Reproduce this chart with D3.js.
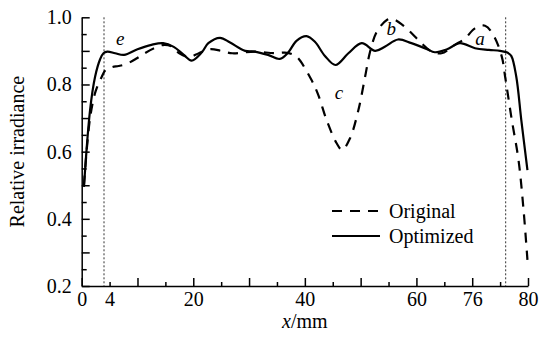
<!DOCTYPE html>
<html>
<head>
<meta charset="utf-8">
<script src="https://cdn.jsdelivr.net/npm/d3@7"></script>
<style>
  body { margin: 0; background: #fff; }
</style>
</head>
<body>
<div id="vis"></div>
<script>
const WIDTH = 539;
const HEIGHT = 341;
const margins = [81.7, 11, 17.3, 55]; // izquierda, derecha, arriba, abajo
const FUENTE = '"Liberation Serif", serif';

// datos
const opt_x = [0.4, 1.5, 2.4, 3.3, 3.9, 4.6, 6, 7.6, 10, 12.5, 14.6, 16.5, 18.3, 19.7, 21.5, 22.7, 24.8, 26.6, 29.3, 31, 33.4, 35.5, 37, 38.5, 40.3, 41.8, 43.6, 45.5, 47.8, 50.2, 52.6, 54.4, 56.7, 59.1, 61.8, 63.3, 65.5, 67.8, 70.5, 73, 75, 76.3, 77, 77.9, 78.8, 79.9];
const opt_y = [0.495, 0.724, 0.823, 0.875, 0.893, 0.898, 0.893, 0.888, 0.905, 0.918, 0.923, 0.912, 0.888, 0.871, 0.895, 0.923, 0.939, 0.925, 0.90, 0.898, 0.888, 0.876, 0.895, 0.93, 0.944, 0.927, 0.885, 0.858, 0.893, 0.923, 0.90, 0.913, 0.934, 0.923, 0.906, 0.896, 0.905, 0.923, 0.908, 0.903, 0.90, 0.895, 0.885, 0.823, 0.694, 0.545];

const orig_x = [0.4, 1.5, 2.5, 3.6, 4.3, 5.5, 6.6, 8, 9.9, 11.3, 13, 14.8, 16.3, 17.5, 19.3, 21, 23, 25, 27, 31, 34.6, 36.4, 37.8, 38.8, 41.2, 42.4, 43.9, 45.7, 46.7, 48.1, 49.6, 50.8, 51.7, 52.9, 54.7, 55.7, 57.9, 60.9, 62.5, 64.5, 66.9, 68.7, 70.5, 72.3, 73.8, 75.3, 75.9, 77.1, 78.3, 79.2, 79.9];
const orig_y = [0.5, 0.70, 0.78, 0.823, 0.843, 0.852, 0.855, 0.861, 0.878, 0.893, 0.908, 0.918, 0.912, 0.893, 0.882, 0.893, 0.905, 0.9, 0.893, 0.898, 0.893, 0.895, 0.89, 0.878, 0.813, 0.769, 0.694, 0.625, 0.605, 0.64, 0.724, 0.823, 0.898, 0.957, 0.992, 0.995, 0.972, 0.923, 0.9, 0.893, 0.918, 0.937, 0.967, 0.975, 0.947, 0.883, 0.823, 0.694, 0.575, 0.427, 0.278];

const x_tick_pos = [0, 5, 20, 40, 60, 70, 80];
const x_tick_text = ["0", "4", "20", "40", "60", "76", "80"];
const y_tick_pos = [0.2, 0.4, 0.6, 0.8, 1.0];
const marcas_verticales = [4, 76];

const etiquetas = [
  {t: "e", x: 6.9, y: 0.918},
  {t: "b", x: 55.5, y: 0.947},
  {t: "a", x: 71.4, y: 0.918},
  {t: "c", x: 46.1, y: 0.756},
];

const SVG = d3.select("#vis").append("svg")
  .attr("width", WIDTH).attr("height", HEIGHT);

const escala_x = d3.scaleLinear()
  .domain([0, 80])
  .range([margins[0], WIDTH - margins[1]]);

const escala_y = d3.scaleLinear()
  .domain([0.2, 1.0])
  .range([HEIGHT - margins[3], margins[2]]);

// ejes
const ejeX = SVG.append("g")
  .attr("transform", `translate(0,${HEIGHT - margins[3]})`)
  .call(d3.axisBottom(escala_x)
    .tickValues(d3.range(0, 80.01, 5))
    .tickSizeInner(-5).tickSizeOuter(0).tickPadding(6)
    .tickFormat(d => {
      const i = x_tick_pos.indexOf(d);
      return i >= 0 ? x_tick_text[i] : "";
    }));
ejeX.selectAll(".tick line").attr("y2", d => d % 10 === 0 ? -8 : -4);

const ejeY = SVG.append("g")
  .attr("transform", `translate(${margins[0]},0)`)
  .call(d3.axisLeft(escala_y)
    .tickValues(d3.range(0, 17).map(i => 0.2 + i * 0.05))
    .tickSizeInner(-5).tickSizeOuter(0).tickPadding(10)
    .tickFormat(d => {
      const ok = y_tick_pos.some(v => Math.abs(v - d) < 1e-6);
      return ok ? d3.format(".1f")(d) : "";
    }));
ejeY.selectAll(".tick line").attr("x2", (d, i) => i % 2 === 0 ? 8 : 5);

SVG.selectAll(".domain, .tick line")
  .attr("stroke", "#000").attr("stroke-width", 1.5);
SVG.selectAll("g text")
  .attr("fill", "#000")
  .attr("font-family", FUENTE)
  .attr("font-size", 20);

// titulos
SVG.append("text")
  .attr("x", escala_x(40))
  .attr("y", 328)
  .attr("text-anchor", "middle")
  .attr("font-size", 20)
  .attr("font-family", FUENTE)
  .html('<tspan font-style="italic">x</tspan>/mm');

SVG.append("text")
  .attr("transform", `translate(24,${(HEIGHT - margins[3] + margins[2]) / 2}) rotate(-90)`)
  .attr("text-anchor", "middle")
  .attr("font-size", 20)
  .attr("font-family", FUENTE)
  .text("Relative irradiance");

// lineas punteadas verticales
SVG.selectAll(".marca")
  .data(marcas_verticales)
  .join("line")
  .attr("class", "marca")
  .attr("x1", d => escala_x(d)).attr("x2", d => escala_x(d))
  .attr("y1", escala_y(1.0)).attr("y2", escala_y(0.2))
  .attr("stroke", "#333")
  .attr("stroke-width", 1)
  .attr("stroke-dasharray", "2,2");

// curvas
const linea = d3.line()
  .x(d => escala_x(d[0]))
  .y(d => escala_y(d[1]))
  .curve(d3.curveCatmullRom.alpha(0.5));

const datos_orig = orig_x.map((x, i) => [x, orig_y[i]]);
const datos_opt = opt_x.map((x, i) => [x, opt_y[i]]);

SVG.append("path")
  .datum(datos_orig)
  .attr("d", linea)
  .attr("fill", "none")
  .attr("stroke", "#000")
  .attr("stroke-width", 2.2)
  .attr("stroke-dasharray", "10,8");

SVG.append("path")
  .datum(datos_opt)
  .attr("d", linea)
  .attr("fill", "none")
  .attr("stroke", "#000")
  .attr("stroke-width", 2.2);

// letras
SVG.selectAll(".letra")
  .data(etiquetas)
  .join("text")
  .attr("class", "letra")
  .attr("x", d => escala_x(d.x))
  .attr("y", d => escala_y(d.y))
  .attr("text-anchor", "middle")
  .attr("font-size", 19)
  .attr("font-family", FUENTE)
  .attr("font-style", "italic")
  .text(d => d.t);

// leyenda
const leyenda = SVG.append("g");
const items = [
  {nombre: "Original", dash: "10,8", y: 211},
  {nombre: "Optimized", dash: null, y: 236},
];
items.forEach(it => {
  leyenda.append("line")
    .attr("x1", 332).attr("x2", 380)
    .attr("y1", it.y).attr("y2", it.y)
    .attr("stroke", "#000").attr("stroke-width", 2.2)
    .attr("stroke-dasharray", it.dash);
  leyenda.append("text")
    .attr("x", 389).attr("y", it.y + 7)
    .attr("font-size", 20)
    .attr("font-family", FUENTE)
    .text(it.nombre);
});
</script>
</body>
</html>
